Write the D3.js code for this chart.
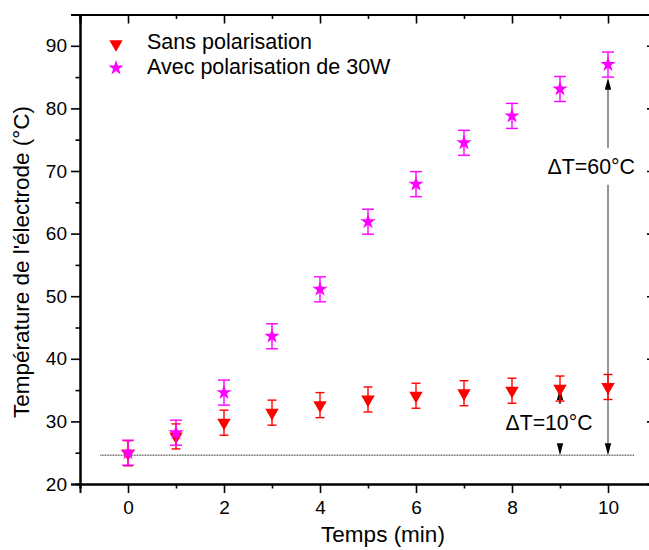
<!DOCTYPE html>
<html>
<head>
<meta charset="utf-8">
<script src="https://cdn.jsdelivr.net/npm/d3@7"></script>
<style>
  html, body { margin: 0; padding: 0; background: #fff; }
  svg { display: block; font-family: "Liberation Sans", Arial, sans-serif; }
</style>
</head>
<body>
<svg id="chart" width="649" height="550"></svg>
<script>
// ---- data ----
const times = [0, 1, 2, 3, 4, 5, 6, 7, 8, 9, 10];
const sansValues = [24.9, 27.6, 29.8, 31.4, 32.6, 33.5, 34.1, 34.5, 34.9, 35.25, 35.5];
const sansErrors = [2, 2, 2, 2, 2, 2, 2, 2, 2, 2, 2];
const avecValues = [25.0, 28.2, 34.6, 43.6, 51.1, 61.9, 67.9, 74.5, 78.8, 83.1, 87.0];
const avecErrors = [2, 2, 2, 2, 2, 2, 2, 2, 2, 2, 2];
const seriesNames = ["Sans polarisation", "Avec polarisation de 30W"];
const xMajorTicks = [0, 2, 4, 6, 8, 10];
const xMinorTicks = [-1, 1, 3, 5, 7, 9, 11];
const yMajorTicks = [20, 30, 40, 50, 60, 70, 80, 90];
const yMinorTicks = [25, 35, 45, 55, 65, 75, 85, 95];
const baselineValue = 24.6;
const baselineRange = [-0.58, 10.55];
const xTitle = "Temps (min)";
const yTitle = "Température de l'électrode (°C)";
const annot60 = { label: "ΔT=60°C", x: 10, top: 84.9, bottom: baselineValue, gapTop: 73.7, gapBottom: 67.8 };
const annot10 = { label: "ΔT=10°C", x: 9, top: 35.3, bottom: baselineValue, gapTop: 32.8, gapBottom: 26.4 };

// ---- layout ----
const svg = d3.select("#chart");
const L = 80, R = 656, T = 14.5, B = 484;
const x = d3.scaleLinear().domain([-1, 11]).range([L, R]);
const y = d3.scaleLinear().domain([20, 95]).range([B, T]);
const RED = "#ff0000", MAG = "#ff00ff";

// axes
function styleAxis(g) {
  g.select(".domain").attr("stroke", "#000").attr("stroke-width", 2);
  g.selectAll(".tick line").attr("stroke", "#000").attr("stroke-width", 1.6);
  g.selectAll(".tick text").attr("font-size", 19).attr("fill", "#000")
    .attr("font-family", "Liberation Sans, Arial, sans-serif");
}
// bottom
svg.append("g").attr("transform", `translate(0,${B})`)
  .call(d3.axisBottom(x).tickValues(xMinorTicks).tickSize(4.5).tickFormat(""))
  .call(styleAxis);
svg.append("g").attr("transform", `translate(0,${B})`)
  .call(d3.axisBottom(x).tickValues(xMajorTicks).tickSize(9).tickPadding(8).tickFormat(d3.format("d")))
  .call(styleAxis);
// top
svg.append("g").attr("transform", `translate(0,${T})`)
  .call(d3.axisBottom(x).tickValues(xMinorTicks).tickSize(4.5).tickFormat(""))
  .call(styleAxis);
svg.append("g").attr("transform", `translate(0,${T})`)
  .call(d3.axisBottom(x).tickValues(xMajorTicks).tickSize(9).tickFormat(""))
  .call(styleAxis);
// left
svg.append("g").attr("transform", `translate(${L},0)`)
  .call(d3.axisLeft(y).tickValues(yMinorTicks).tickSize(4.5).tickFormat(""))
  .call(styleAxis);
svg.append("g").attr("transform", `translate(${L},0)`)
  .call(d3.axisLeft(y).tickValues(yMajorTicks).tickSize(9).tickPadding(4).tickFormat(d3.format("d")))
  .call(styleAxis);
// right
svg.append("g").attr("transform", `translate(${R},0)`)
  .call(d3.axisLeft(y).tickValues(yMinorTicks).tickSize(4.5).tickFormat(""))
  .call(styleAxis);
svg.append("g").attr("transform", `translate(${R},0)`)
  .call(d3.axisLeft(y).tickValues(yMajorTicks).tickSize(9).tickFormat(""))
  .call(styleAxis);

// axis titles
svg.append("text").attr("x", 383).attr("y", 542).attr("text-anchor", "middle")
  .attr("font-size", 22.5).attr("fill", "#000").text(xTitle);
svg.append("text").attr("transform", `translate(29,262) rotate(-90)`)
  .attr("text-anchor", "middle").attr("font-size", 22.5).attr("fill", "#000").text(yTitle);

// baseline dotted line
svg.append("line")
  .attr("x1", x(baselineRange[0])).attr("x2", x(baselineRange[1]))
  .attr("y1", y(baselineValue)).attr("y2", y(baselineValue))
  .attr("stroke", "#707070").attr("stroke-width", 1.6).attr("stroke-dasharray", "1,0.6");

// arrows
function arrowHead(px, py, dir, color) {
  const len = 12, hw = 3.2;
  svg.append("path")
    .attr("d", `M${px},${py} L${px - hw},${py - dir * len} L${px + hw},${py - dir * len} Z`)
    .attr("fill", color);
}
function annotate(a, lineColor, tx, ty, tlen) {
  const xp = x(a.x);
  svg.append("line").attr("x1", xp).attr("x2", xp)
    .attr("y1", y(a.top) + 6).attr("y2", y(a.gapTop))
    .attr("stroke", lineColor).attr("stroke-width", 1.6);
  svg.append("line").attr("x1", xp).attr("x2", xp)
    .attr("y1", y(a.gapBottom)).attr("y2", y(a.bottom) - 6)
    .attr("stroke", lineColor).attr("stroke-width", 1.6);
  arrowHead(xp, y(a.top), -1, "#000");
  arrowHead(xp, y(a.bottom), 1, "#000");
  svg.append("text").attr("x", tx).attr("y", ty).attr("font-size", 22)
    .attr("textLength", tlen).attr("lengthAdjust", "spacingAndGlyphs")
    .attr("fill", "#000").text(a.label);
}

// error bars + markers
const sansData = times.map((t, i) => ({ t, v: sansValues[i], e: sansErrors[i] }));
const avecData = times.map((t, i) => ({ t, v: avecValues[i], e: avecErrors[i] }));

function errorBars(data, color, capW) {
  const g = svg.append("g").attr("stroke", color).attr("stroke-width", 1.4);
  g.selectAll("line.v").data(data).join("line").attr("class", "v")
    .attr("x1", d => x(d.t)).attr("x2", d => x(d.t))
    .attr("y1", d => y(d.v + d.e)).attr("y2", d => y(d.v - d.e));
  g.selectAll("line.t").data(data).join("line").attr("class", "t")
    .attr("x1", d => x(d.t) - capW / 2).attr("x2", d => x(d.t) + capW / 2)
    .attr("y1", d => y(d.v + d.e)).attr("y2", d => y(d.v + d.e));
  g.selectAll("line.b").data(data).join("line").attr("class", "b")
    .attr("x1", d => x(d.t) - capW / 2).attr("x2", d => x(d.t) + capW / 2)
    .attr("y1", d => y(d.v - d.e)).attr("y2", d => y(d.v - d.e));
}
const triSym = d3.symbol().type(d3.symbolTriangle).size(78);
const starSym = d3.symbol().type(d3.symbolStar).size(72);

annotate(annot60, "#7a7a7a", 547.5, 174, 87.5);
annotate(annot10, "#000", 505.5, 430, 87);

errorBars(sansData, RED, 9);
svg.append("g").selectAll("path").data(sansData).join("path")
  .attr("d", triSym).attr("fill", RED)
  .attr("transform", d => `translate(${x(d.t)},${y(d.v)}) rotate(180)`);

errorBars(avecData, MAG, 12);
svg.append("g").selectAll("path").data(avecData).join("path")
  .attr("d", starSym).attr("fill", MAG)
  .attr("transform", d => `translate(${x(d.t)},${y(d.v)})`);

// legend
const lg = svg.append("g");
lg.append("path").attr("d", triSym).attr("fill", RED).attr("transform", "translate(116,44) rotate(180)");
lg.append("path").attr("d", starSym).attr("fill", MAG).attr("transform", "translate(116,68)");
lg.append("text").attr("x", 147).attr("y", 48.5).attr("font-size", 21.5).attr("fill", "#000").text(seriesNames[0]);
lg.append("text").attr("x", 147).attr("y", 73.5).attr("font-size", 21.5).attr("fill", "#000").text(seriesNames[1]);
</script>
</body>
</html>
